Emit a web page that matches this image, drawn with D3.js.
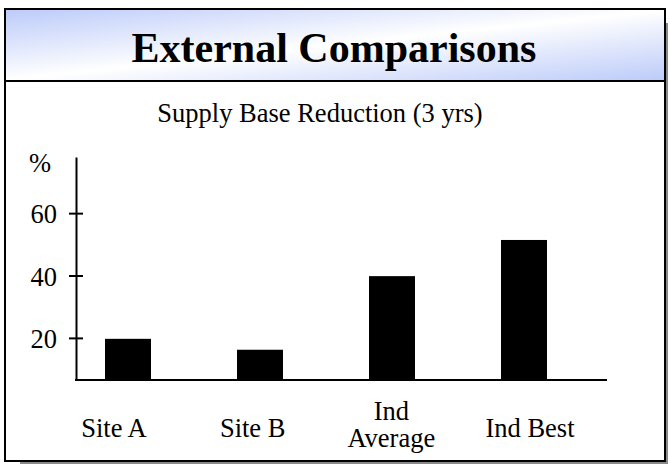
<!DOCTYPE html>
<html lang="en">
<head>
    <meta charset="UTF-8">
    <title>External Comparisons</title>
    <script src="https://d3js.org/d3.v7.min.js"></script>
    <style>
        body {
            margin: 0;
            padding: 0;
            background: #fff;
        }
        text {
            font-family: "Liberation Serif", "Times New Roman", serif;
            fill: #000;
        }
        .axis path, .axis line {
            stroke: #000;
            stroke-width: 2px;
        }
    </style>
</head>
<body>
    <script>
        // chart data
        const categories = ['Site A', 'Site B', 'Ind Average', 'Ind Best'];
        const labelLines = [['Site A'], ['Site B'], ['Ind', 'Average'], ['Ind Best']];
        const values = [19.7, 16.2, 39.8, 51.4];
        const yTicks = [20, 40, 60];

        const width = 670, height = 465;
        const fontSize = '26.5px';

        const svg = d3.select('body').append('svg')
            .attr('width', width)
            .attr('height', height);

        // gradient for title band
        const grad = svg.append('defs').append('linearGradient')
            .attr('id', 'titleGrad')
            .attr('x1', 0).attr('y1', 0)
            .attr('x2', 1).attr('y2', 1);
        grad.append('stop').attr('offset', '0%').attr('stop-color', '#bccbf9');
        grad.append('stop').attr('offset', '50%').attr('stop-color', '#ffffff');
        grad.append('stop').attr('offset', '100%').attr('stop-color', '#bccbf9');

        // frame + shadow
        svg.append('rect')
            .attr('x', 20).attr('y', 23)
            .attr('width', 648).attr('height', 441)
            .attr('fill', '#8a8a8a');
        svg.append('rect')
            .attr('x', 5).attr('y', 9)
            .attr('width', 660).attr('height', 452)
            .attr('fill', '#fff')
            .attr('stroke', '#000')
            .attr('stroke-width', 2);
        svg.append('rect')
            .attr('x', 6).attr('y', 10)
            .attr('width', 658).attr('height', 70)
            .attr('fill', 'url(#titleGrad)');
        svg.append('line')
            .attr('x1', 5).attr('x2', 665)
            .attr('y1', 81).attr('y2', 81)
            .attr('stroke', '#000')
            .attr('stroke-width', 2);

        svg.append('text')
            .attr('x', 334).attr('y', 62)
            .attr('text-anchor', 'middle')
            .style('font-size', '42px')
            .style('font-weight', 'bold')
            .text('External Comparisons');

        svg.append('text')
            .attr('x', 320).attr('y', 122)
            .attr('text-anchor', 'middle')
            .style('font-size', fontSize)
            .text('Supply Base Reduction (3 yrs)');

        // plot area
        const x0 = 76, x1 = 607, yBase = 380, yTop = 157;

        const y = d3.scaleLinear()
            .domain([6.5, 78])
            .range([yBase, yTop]);

        const xBar = d3.scalePoint()
            .domain(categories)
            .range([128, 524]);

        const xLabel = d3.scalePoint()
            .domain(categories)
            .range([114, 530]);

        const barWidth = 46;

        svg.selectAll('.bar')
            .data(values)
            .enter().append('rect')
            .attr('class', 'bar')
            .attr('x', (d, i) => xBar(categories[i]) - barWidth / 2)
            .attr('y', d => y(d))
            .attr('width', barWidth)
            .attr('height', d => yBase - y(d))
            .attr('fill', '#000');

        const yAxis = svg.append('g')
            .attr('class', 'axis')
            .attr('transform', `translate(${x0},0)`)
            .call(d3.axisLeft(y).tickValues(yTicks).tickSizeInner(7).tickSizeOuter(0).tickPadding(12));
        yAxis.selectAll('.tick line').attr('x1', 7).attr('x2', -7);
        yAxis.selectAll('.tick text')
            .style('font-size', fontSize)
            .style('font-family', '"Liberation Serif", "Times New Roman", serif')
            .attr('dy', '0.36em');

        svg.append('text')
            .attr('x', 29).attr('y', 172)
            .style('font-size', fontSize)
            .text('%');

        // x axis line
        svg.append('line')
            .attr('x1', x0 - 1).attr('x2', x1)
            .attr('y1', yBase).attr('y2', yBase)
            .attr('stroke', '#000')
            .attr('stroke-width', 2);

        // category labels
        const lab = svg.selectAll('.xlabel')
            .data(categories)
            .enter().append('text')
            .attr('class', 'xlabel')
            .attr('text-anchor', 'middle')
            .style('font-size', fontSize)
            .attr('x', d => xLabel(d))
            .attr('y', (d, i) => labelLines[i].length > 1 ? 420 : 437);
        lab.selectAll('tspan')
            .data((d, i) => labelLines[i])
            .enter().append('tspan')
            .attr('x', function() { return d3.select(this.parentNode).attr('x'); })
            .attr('dy', (d, i) => i === 0 ? 0 : 27)
            .text(d => d);
    </script>
</body>
</html>
